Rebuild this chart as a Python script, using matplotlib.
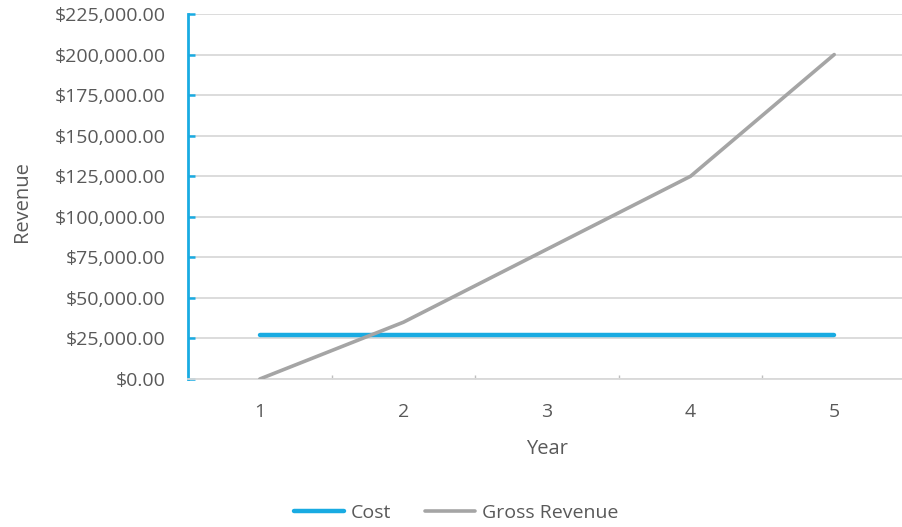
import matplotlib
matplotlib.use("Agg")
import matplotlib.pyplot as plt
from matplotlib.ticker import FuncFormatter, FixedLocator

years = [1, 2, 3, 4, 5]
cost = [27000, 27000, 27000, 27000, 27000]
gross_revenue = [0, 35000, 80000, 125000, 200000]
y_ticks = [0, 25000, 50000, 75000, 100000, 125000, 150000, 175000, 200000, 225000]

BLUE = "#19ABE2"
GREY = "#A5A5A5"
GRID = "#D9D9D9"
TEXT = "#595959"

plt.rcParams["font.family"] = ["Open Sans", "DejaVu Sans"]

W, H = 903, 527
fig = plt.figure(figsize=(W / 100, H / 100), dpi=100)
ax = fig.add_axes([188 / W, 1 - 379 / H, (906 - 188) / W, 365 / H])

ax.plot(years, cost, color=BLUE, lw=3.2, solid_capstyle="round", label="Cost", zorder=3)
ax.plot(years, gross_revenue, color=GREY, lw=2.6, solid_capstyle="round",
        label="Gross Revenue", zorder=3)

ax.set_xlim(0.5, 5.5)
ax.set_ylim(0, 225000)
ax.set_yticks(y_ticks)
ax.yaxis.set_major_formatter(FuncFormatter(lambda v, p: f"${v:,.2f}"))
ax.set_xticks(years)
ax.set_xticklabels([str(y) for y in years])
ax.xaxis.set_minor_locator(FixedLocator([1.5, 2.5, 3.5, 4.5]))

ax.grid(axis="y", color=GRID, lw=1.3, zorder=0)
ax.set_axisbelow(True)

for s in ("top", "right"):
    ax.spines[s].set_visible(False)
ax.spines["left"].set_color(BLUE)
ax.spines["left"].set_linewidth(2.0)
ax.spines["bottom"].set_color(GRID)
ax.spines["bottom"].set_linewidth(1.3)

ax.tick_params(axis="y", direction="in", length=5, width=1.8, color=BLUE,
               labelsize=14, labelcolor=TEXT, pad=16)
ax.tick_params(axis="x", which="major", length=0, labelsize=14,
               labelcolor=TEXT, pad=17)
ax.tick_params(axis="x", which="minor", direction="in", length=3, width=1,
               color="#BFBFBF")

ax.set_xlabel("Year", fontsize=14.5, color=TEXT, labelpad=13)
ax.set_ylabel("Revenue", fontsize=14.5, color=TEXT)
ax.yaxis.set_label_coords((32 - 188) / 718, 0.485)

fig.legend(loc="center", bbox_to_anchor=(456 / W, 1 - 513 / H), ncol=2,
           frameon=False, fontsize=14, labelcolor=TEXT, handlelength=2.6,
           handletextpad=0.35, columnspacing=1.7)

fig.savefig("out.png", dpi=100)
